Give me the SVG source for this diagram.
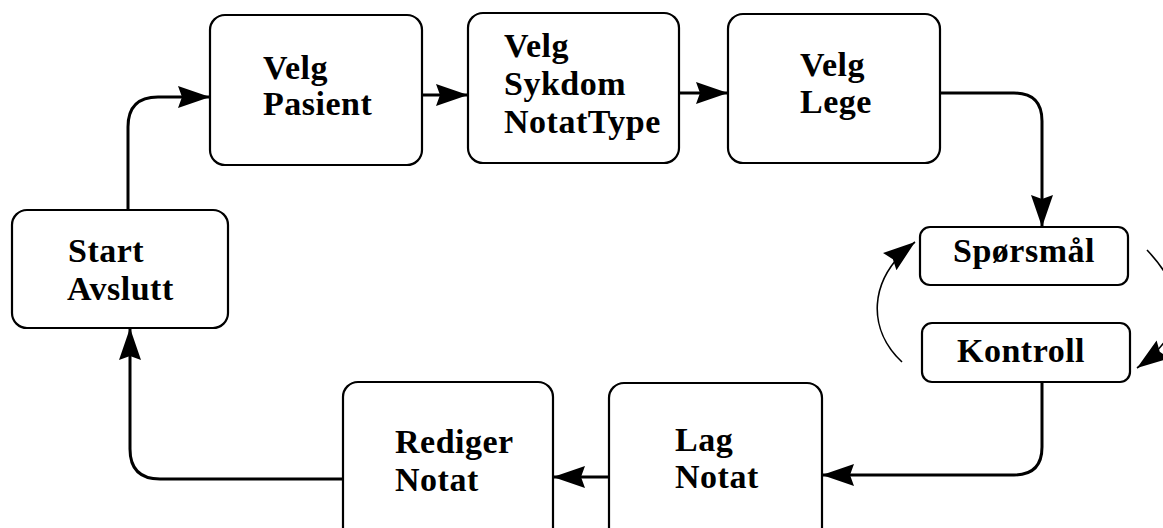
<svg xmlns="http://www.w3.org/2000/svg" width="1163" height="528" viewBox="0 0 1163 528">
  <style>
    .box { fill: #ffffff; stroke: #000000; stroke-width: 2.2; }
    .lbl { font-family: "Liberation Serif", "Times New Roman", serif; font-weight: bold; font-size: 34px; fill: #000000; letter-spacing: 0.5px; }
    .flow { fill: none; stroke: #000000; stroke-width: 3; marker-end: url(#head); }
    .loop { fill: none; stroke: #000000; stroke-width: 1.6; marker-end: url(#head); }
  </style>
  <defs>
    <marker id="head" markerUnits="userSpaceOnUse" markerWidth="34" markerHeight="24" refX="32" refY="11" orient="auto">
      <path d="M0,0 L32,11 L0,22 L4,11 z" fill="#000000"/>
    </marker>
  </defs>

  <rect width="1163" height="528" fill="#ffffff"/>

  <g id="connectors">
    <path class="flow" d="M128,210 V127 Q128,97 158,97 H210"/>
    <path class="flow" d="M422,95 H468"/>
    <path class="flow" d="M679,93 H728"/>
    <path class="flow" d="M940,93 H1014 Q1042,93 1042,121 V227"/>
    <path class="flow" d="M1042,382 V447 Q1042,475 1014,475 H822"/>
    <path class="flow" d="M609,477 H553"/>
    <path class="flow" d="M343,479 H160 Q130,479 130,449 V328"/>
    <path class="loop" d="M902,362 C868,330 866,280 915,242"/>
    <path class="loop" d="M1147,250 C1185,290 1190,330 1137,368"/>
  </g>

  <g id="start-avslutt">
    <rect class="box" x="12" y="210" width="216" height="118" rx="15"/>
    <text class="lbl" x="68" y="262">Start</text>
    <text class="lbl" x="67" y="300">Avslutt</text>
  </g>

  <g id="velg-pasient">
    <rect class="box" x="210" y="15" width="212" height="150" rx="15"/>
    <text class="lbl" x="263" y="79">Velg</text>
    <text class="lbl" x="263" y="115">Pasient</text>
  </g>

  <g id="velg-sykdom">
    <rect class="box" x="468" y="13" width="211" height="150" rx="15"/>
    <text class="lbl" x="504" y="57">Velg</text>
    <text class="lbl" x="504" y="95">Sykdom</text>
    <text class="lbl" x="504" y="133">NotatType</text>
  </g>

  <g id="velg-lege">
    <rect class="box" x="728" y="14" width="212" height="149" rx="15"/>
    <text class="lbl" x="800" y="76">Velg</text>
    <text class="lbl" x="800" y="113">Lege</text>
  </g>

  <g id="sporsmal">
    <rect class="box" x="920" y="227" width="208" height="58" rx="10"/>
    <text class="lbl" x="953" y="262">Spørsmål</text>
  </g>

  <g id="kontroll">
    <rect class="box" x="922" y="323" width="208" height="59" rx="10"/>
    <text class="lbl" x="957" y="362">Kontroll</text>
  </g>

  <g id="lag-notat">
    <rect class="box" x="609" y="383" width="213" height="165" rx="15"/>
    <text class="lbl" x="675" y="451">Lag</text>
    <text class="lbl" x="675" y="488">Notat</text>
  </g>

  <g id="rediger-notat">
    <rect class="box" x="343" y="382" width="210" height="166" rx="15"/>
    <text class="lbl" x="395" y="453">Rediger</text>
    <text class="lbl" x="395" y="491">Notat</text>
  </g>
</svg>
